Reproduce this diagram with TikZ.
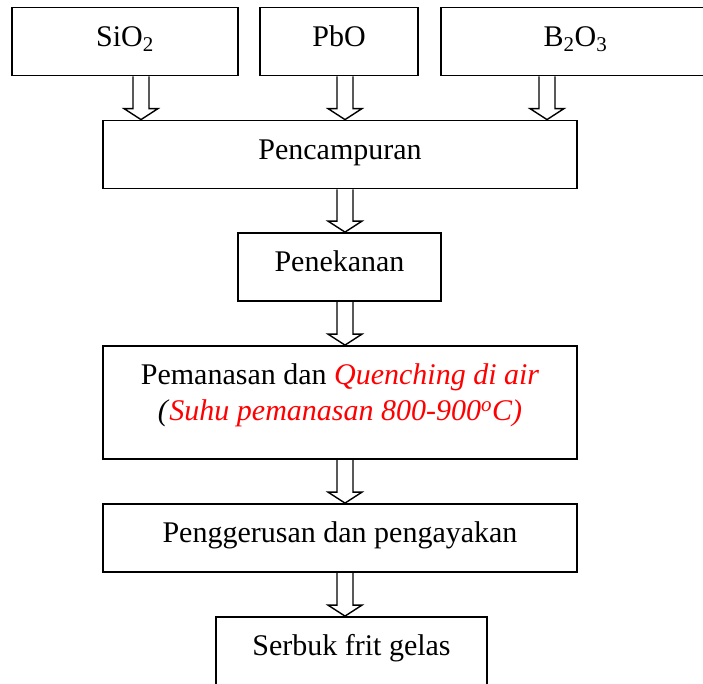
\documentclass[tikz,border=0pt]{standalone}
\usepackage{fontspec}
\setmainfont{Liberation Serif}
\usetikzlibrary{calc}

\tikzset{
  stepbox/.style={draw, line width=1.8pt, inner sep=0pt, minimum height=68pt,
    text height=20pt, text depth=11pt, font=\fontsize{30}{36}\selectfont},
  blockarr/.style={draw, line width=1.4pt, line join=miter}
}

% hollow block arrow: #1 = x (pt), #2 = from node, #3 = to node
\newcommand{\hollowarrow}[3]{%
  \draw[blockarr] let \p1=(#2.south), \p2=(#3.north) in
    ({#1pt-8pt},\y1) -- ({#1pt-8pt},{\y2+11pt}) -- ({#1pt-17pt},{\y2+11pt})
    -- (#1pt,\y2) -- ({#1pt+17pt},{\y2+11pt}) -- ({#1pt+8pt},{\y2+11pt})
    -- ({#1pt+8pt},\y1);
}

\begin{document}
\begin{tikzpicture}[x=1pt, y=-1pt]
	\useasboundingbox (0,0) rectangle (703,683);
	
	% bahan awal
	\node [stepbox, minimum width=226pt] (sio) at (125,41.5) {SiO\textsubscript{2}};
	\node [stepbox, minimum width=158pt] (pbo) at (339,41.5) {PbO};
	\node [stepbox, minimum width=269pt] (bo) at (575.5,41.5) {B\textsubscript{2}O\textsubscript{3}};
	
	% proses
	\node [stepbox, minimum width=474pt] (campur) at (340,154.5) {Pencampuran};
	\node [stepbox, minimum width=203pt] (tekan) at (339.5,267) {Penekanan};
	\node [stepbox, minimum width=474pt, minimum height=113pt] (panas) at (340,402.5) {};
	\node [anchor=north, align=center, inner sep=0pt, font=\fontsize{30}{36}\selectfont] (panastxt) at ([yshift=-18pt]panas.north)
	  {Pemanasan dan \textcolor{red}{\itshape Quenching di air}\\
	   \textit{(}\textcolor{red}{\itshape Suhu pemanasan 800-900\textsuperscript{o}C)}};
	\node [stepbox, minimum width=474pt] (gerus) at (340,538) {Penggerusan dan pengayakan};
	\node [stepbox, minimum width=271pt] (serbuk) at (351.5,651) {Serbuk frit gelas};
	
	\hollowarrow{141}{sio}{campur}
	\hollowarrow{345}{pbo}{campur}
	\hollowarrow{547}{bo}{campur}
	\hollowarrow{345}{campur}{tekan}
	\hollowarrow{345}{tekan}{panas}
	\hollowarrow{345}{panas}{gerus}
	\hollowarrow{345}{gerus}{serbuk}
\end{tikzpicture}
\end{document}
